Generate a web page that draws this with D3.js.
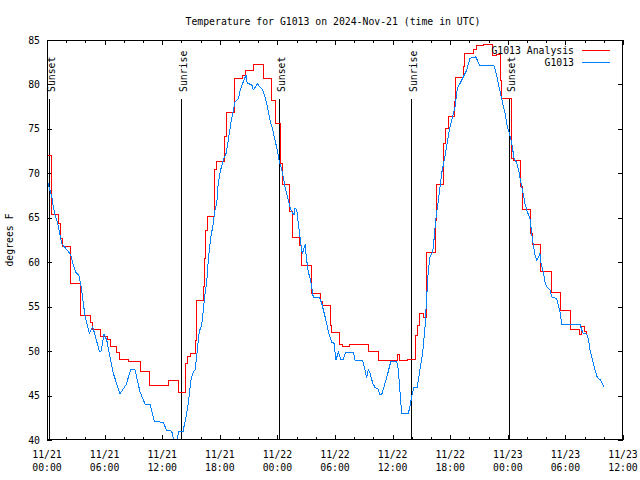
<!DOCTYPE html>
<html><head><meta charset="utf-8">
<script src="https://cdn.jsdelivr.net/npm/d3@7"></script>
<style>
body{margin:0;background:#fff}
svg{display:block}
text{font-family:"DejaVu Sans Mono","Liberation Mono",monospace;font-size:9.8px;fill:#000}
</style>
</head><body><svg id="c" width="640" height="480"></svg>
<script>
const title = "Temperature for G1013 on 2024-Nov-21 (time in UTC)";
const yLabel = "degrees F";
const seriesNames = ["G1013 Analysis", "G1013"];
const seriesColors = ["#ff0000", "#0080ff"];

const xTickHours = [0, 6, 12, 18, 24, 30, 36, 42, 48, 54, 60];
const xTickDates = ["11/21","11/21","11/21","11/21","11/22","11/22","11/22","11/22","11/23","11/23","11/23"];
const xTickTimes = ["00:00","06:00","12:00","18:00","00:00","06:00","12:00","18:00","00:00","06:00","12:00"];
const xMinorHours = d3.range(0, 61, 2);
const yTicks = [40, 45, 50, 55, 60, 65, 70, 75, 80, 85];

const sunHours = [0.24, 13.99, 24.2, 37.95, 48.16];
const sunLabels = ["Sunset", "Sunrise", "Sunset", "Sunrise", "Sunset"];

// Analysis (hours since 11/21 00:00 UTC, deg F) - stepped
const anaHours = [0,0.49,1.18,1.38,1.63,2.47,3.51,4.48,4.72,5.59,6.35,6.63,7.2,7.6,8.51,9.69,10.66,12.65,13.69,14.45,14.65,14.96,15.42,15.6,16.3,16.43,16.52,16.68,17.43,17.64,18.44,18.65,19.48,20.39,20.63,21.56,22.6,23.41,23.75,24.34,24.55,25.31,25.55,26.35,26.53,27.53,28.52,28.68,29.48,29.66,30.52,30.73,31.56,33.47,34.58,36.53,36.71,37.53,38.41,38.62,38.85,39.27,39.48,39.55,40.42,40.59,41.35,41.56,41.8,42.4,42.57,43.36,43.54,44.41,44.76,45.45,46.43,46.84,47.2,47.36,48.36,48.6,49.34,49.55,50.39,50.55,51.45,52.5,53.54,54.48,55.52,55.63,55.97,56.22];
const anaTemp = [72.0,65.4,64.4,62.7,61.8,57.6,54.0,53.2,52.45,51.6,51.3,50.5,49.8,49.1,48.8,47.7,46.1,46.7,45.4,48.6,49.4,49.7,51.25,55.7,57.25,60.4,63.6,65.2,70.4,71.3,74.1,76.9,80.7,81.06,81.6,82.3,80.7,78.25,75.6,71.1,68.7,65.7,62.8,61.9,59.6,56.5,55.6,55.1,52.9,52.1,50.7,50.5,50.75,50.0,49.0,49.6,48.95,49.1,51.8,52.9,54.25,53.75,55.1,61.1,64.75,68.75,73.4,75.05,76.4,78.05,80.8,82.0,83.5,83.95,84.35,84.5,83.3,83.4,80.5,78.4,71.7,71.4,68.5,65.9,63.25,62.05,59.0,56.6,54.6,52.4,51.9,52.75,52.2,51.9];

// Observations
const obsHours = [0.0,0.1,0.49,0.66,0.83,1.07,1.53,2.22,2.47,2.64,2.99,3.33,3.61,3.96,4.41,4.76,5.0,5.45,5.63,5.94,6.22,6.56,6.91,7.6,8.23,8.72,9.17,9.69,10.21,10.73,11.18,12.11,12.47,12.99,13.26,13.44,13.75,14.2,14.27,14.55,14.72,14.97,15.18,15.42,15.59,15.86,16.11,16.28,16.49,16.64,16.8,17.05,17.32,17.5,17.68,17.84,18.09,18.36,18.65,18.89,19.14,19.41,19.58,19.93,20.18,20.45,20.73,20.86,21.32,21.49,21.7,21.9,22.19,22.47,22.71,22.95,23.23,23.51,23.75,23.99,24.2,24.45,24.61,24.79,25.03,25.31,25.49,25.73,25.83,26.01,26.18,26.35,26.53,26.63,26.77,26.88,27.05,27.22,27.4,27.57,27.74,28.37,28.61,28.96,29.31,29.66,29.9,30.1,30.35,30.6,30.87,31.12,31.91,32.08,32.88,33.13,33.3,33.47,33.65,33.93,34.17,34.45,34.69,34.86,35.03,35.31,35.55,35.8,36.43,36.6,36.77,36.95,37.64,37.81,37.99,38.23,38.57,38.85,39.13,39.38,39.55,39.72,39.9,40.18,40.31,40.49,40.86,41.11,41.35,41.63,41.91,42.16,42.5,42.74,43.02,43.37,43.72,44.06,44.69,44.93,45.1,46.56,46.84,47.12,47.36,47.71,47.95,48.16,48.41,48.65,48.93,49.2,49.35,49.53,49.79,50.03,50.31,50.49,50.66,50.83,51.01,51.2,51.35,51.45,51.7,51.88,52.05,52.4,52.57,53.09,53.26,53.44,53.61,55.52,55.7,55.86,56.22,56.39,56.56,56.74,56.91,57.08,57.32,57.6,57.88,58.05];
const obsTemp = [70.5,68.9,67.4,66.25,65.3,64.6,62.1,61.2,60.8,60.05,58.9,58.5,56.9,53.9,52.0,52.75,51.8,50.0,50.0,51.9,51.25,49.4,47.5,45.2,46.2,47.9,47.9,45.4,44.05,44.0,42.06,42.0,41.05,41.0,39.7,39.7,41.0,41.0,41.5,43.0,44.1,46.6,47.5,47.9,49.4,52.2,52.9,54.6,56.7,57.8,60.25,62.7,64.4,65.9,66.6,68.9,70.4,71.5,72.25,73.75,75.6,77.1,78.05,78.4,79.55,80.3,81.06,80.1,80.0,79.4,79.7,80.1,79.7,79.4,78.6,77.5,76.0,74.9,73.75,72.6,71.3,70.4,69.6,68.5,67.4,66.25,65.7,65.3,66.1,65.9,64.4,62.9,61.3,61.0,61.6,62.0,60.25,58.9,58.2,57.25,56.05,56.05,55.4,53.9,52.2,50.95,50.9,49.0,49.9,49.1,49.1,49.9,49.9,49.0,48.9,47.9,47.0,47.9,47.5,46.4,45.9,45.8,45.1,45.1,45.7,46.75,47.7,48.8,48.8,47.9,45.4,43.0,43.0,43.75,44.9,45.9,45.95,47.9,49.75,52.75,56.1,59.1,60.6,61.2,62.5,64.75,67.75,70.0,71.3,73.0,74.9,76.0,77.5,79.55,80.1,80.85,81.6,82.95,83.1,82.4,82.1,82.1,81.05,79.55,78.4,76.75,75.25,74.5,73.4,71.7,71.2,70.0,69.0,68.1,66.6,65.7,64.9,63.25,61.9,60.8,60.25,60.6,61.0,60.0,58.9,57.8,57.25,56.9,56.1,55.9,55.2,54.4,53.05,53.05,52.4,52.0,51.9,51.4,50.1,49.4,48.6,47.9,47.05,46.8,46.3,45.9];

const L = 47, R = 623, T = 40, B = 440;
const svg = d3.select("#c");
const x = d3.scaleLinear().domain([0, 60]).range([L, R]);
const y = d3.scaleLinear().domain([40, 85]).range([B, T]);

svg.append("defs").append("clipPath").attr("id", "clip")
  .append("rect").attr("x", L).attr("y", T).attr("width", R - L).attr("height", B - T);

// title
svg.append("text").attr("x", 333).attr("y", 25).attr("text-anchor", "middle").text(title);

// y label
svg.append("text").attr("transform", "translate(13,240) rotate(-90)")
  .attr("text-anchor", "middle").text(yLabel);

// axes (ticks inward, mirrored)
function tickAxis(axis, tr) {
  const g = svg.append("g").attr("transform", tr).call(axis);
  g.select(".domain").remove();
  g.selectAll("line").attr("stroke", "#000").attr("shape-rendering", "crispEdges");
  g.selectAll("text").remove();
}
tickAxis(d3.axisBottom(x).tickValues(xMinorHours).tickSize(-3), `translate(0,${B})`);
tickAxis(d3.axisBottom(x).tickValues(xTickHours).tickSize(-5), `translate(0,${B})`);
tickAxis(d3.axisTop(x).tickValues(xMinorHours).tickSize(-3), `translate(0,${T})`);
tickAxis(d3.axisTop(x).tickValues(xTickHours).tickSize(-5), `translate(0,${T})`);
tickAxis(d3.axisLeft(y).tickValues(yTicks).tickSize(-5), `translate(${L},0)`);
tickAxis(d3.axisRight(y).tickValues(yTicks).tickSize(-5), `translate(${R},0)`);

// tick labels
const xl = svg.append("g");
xTickHours.forEach((h, i) => {
  const t = xl.append("text").attr("x", x(h)).attr("text-anchor", "middle");
  t.append("tspan").attr("x", x(h)).attr("y", 458).text(xTickDates[i]);
  t.append("tspan").attr("x", x(h)).attr("y", 471).text(xTickTimes[i]);
});
svg.append("g").selectAll("text").data(yTicks).join("text")
  .attr("x", 40).attr("y", d => y(d) + 3.5).attr("text-anchor", "end").text(d => d);

// sunrise / sunset
sunHours.forEach((h, i) => {
  const xp = Math.round(x(h)) + 0.5;
  svg.append("line").attr("x1", xp).attr("x2", xp).attr("y1", 99).attr("y2", B)
    .attr("stroke", "#000").attr("stroke-width", 1).attr("shape-rendering", "crispEdges");
  svg.append("text").attr("transform", `translate(${xp + 5},92) rotate(-90)`)
    .attr("text-anchor", "start").text(sunLabels[i]);
});

// data
const plot = svg.append("g").attr("clip-path", "url(#clip)");
const anaData = anaHours.map((h, i) => [h, anaTemp[i]]);
const obsData = obsHours.map((h, i) => [h, obsTemp[i]]);
plot.append("path").datum(anaData)
  .attr("d", d3.line().x(d => x(d[0])).y(d => y(d[1])).curve(d3.curveStepAfter))
  .attr("fill", "none").attr("stroke", seriesColors[0]).attr("stroke-width", 1)
  .attr("shape-rendering", "crispEdges");
plot.append("path").datum(obsData)
  .attr("d", d3.line().x(d => x(d[0])).y(d => y(d[1])))
  .attr("fill", "none").attr("stroke", seriesColors[1]).attr("stroke-width", 1)
  .attr("shape-rendering", "crispEdges");

// frame
svg.append("rect").attr("x", L + 0.5).attr("y", T + 0.5).attr("width", R - L - 1).attr("height", B - T - 1)
  .attr("fill", "none").attr("stroke", "#000").attr("stroke-width", 1).attr("shape-rendering", "crispEdges");

// legend
seriesNames.forEach((n, i) => {
  const ly = 50 + i * 12.5;
  svg.append("text").attr("x", 574).attr("y", ly + 3.5).attr("text-anchor", "end").text(n);
  svg.append("line").attr("x1", 582).attr("x2", 610).attr("y1", ly).attr("y2", ly)
    .attr("stroke", seriesColors[i]).attr("stroke-width", 1).attr("shape-rendering", "crispEdges");
});
</script>
</body></html>
